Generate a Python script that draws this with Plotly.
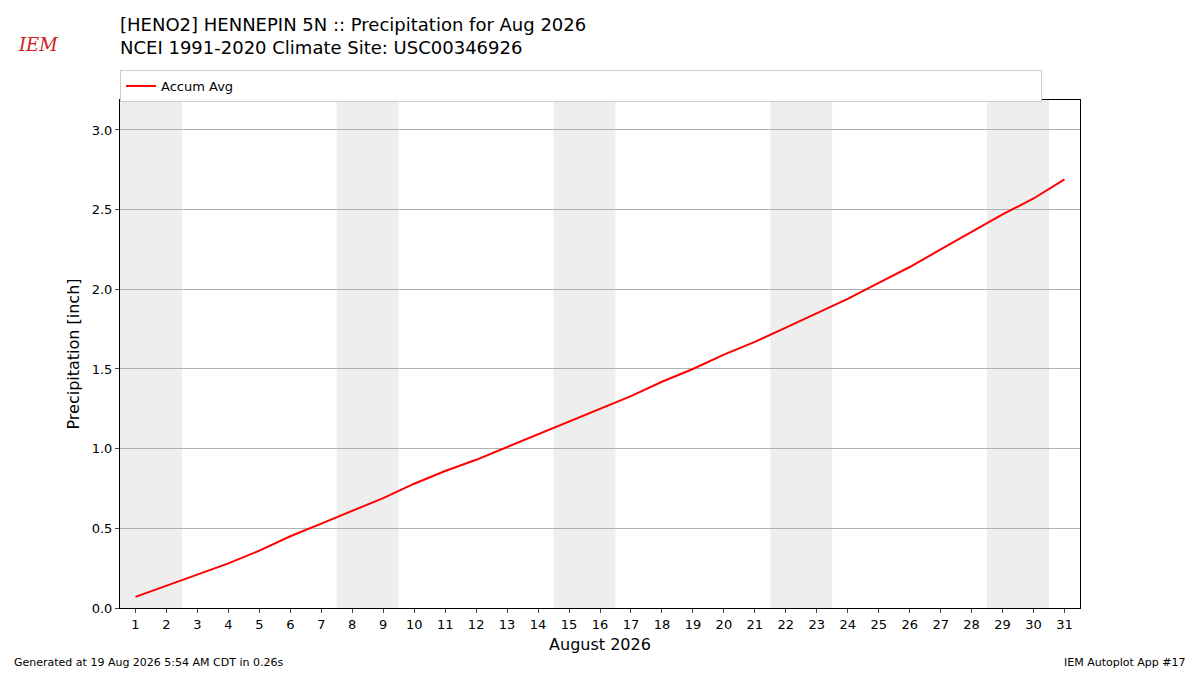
import plotly.graph_objects as go

days = list(range(1, 32))
accum_avg = [0.07, 0.14, 0.21, 0.28, 0.36, 0.45, 0.53, 0.61, 0.69, 0.78, 0.86, 0.93,
             1.01, 1.09, 1.17, 1.25, 1.33, 1.42, 1.50, 1.59, 1.67, 1.76, 1.85, 1.94,
             2.04, 2.14, 2.25, 2.36, 2.47, 2.57, 2.69]
weekend_starts = [1, 8, 15, 22, 29]
yticks = [0.0, 0.5, 1.0, 1.5, 2.0, 2.5, 3.0]

fig = go.Figure()
fig.add_trace(go.Scatter(x=days, y=accum_avg, mode="lines", name="Accum Avg",
                         line=dict(color="red", width=2)))
for d in weekend_starts:
    fig.add_vrect(x0=d - 0.5, x1=d + 1.5, fillcolor="#eeeeee", line_width=0, layer="below")

# plot area in page pixels: x 120..1080, y 100..608
def px(x):
    return (x - 120) / 960
def py(y):
    return (608 - y) / 508

fig.update_layout(
    width=1200, height=675, autosize=False, plot_bgcolor="white", paper_bgcolor="white",
    font=dict(family="DejaVu Sans", color="black", size=13),
    margin=dict(l=112, r=128, t=92, b=75),
    showlegend=True,
    legend=dict(x=0, y=py(70), xanchor="left", yanchor="top", orientation="h",
                bordercolor="#cccccc", borderwidth=1, font=dict(size=13),
                entrywidth=875, entrywidthmode="pixels"),
    xaxis=dict(range=[0.5, 31.5], tickvals=days, ticktext=[str(d) for d in days],
               showgrid=False, showline=True, linecolor="black", mirror=True,
               ticks="outside", ticklen=4,
               title=dict(text="August 2026", font=dict(size=16), standoff=8)),
    yaxis=dict(range=[0, 3.188], tickvals=yticks, ticktext=[f"{v:.1f}" for v in yticks],
               showgrid=True, gridcolor="#b0b0b0", showline=True, linecolor="black",
               mirror=True, ticks="outside", ticklen=4, zeroline=False,
               title=dict(text="Precipitation [inch]", font=dict(size=16), standoff=8)),
    annotations=[
        dict(text="[HENO2] HENNEPIN 5N :: Precipitation for Aug 2026<br>NCEI 1991-2020 Climate Site: USC00346926",
             x=px(118), y=py(12), xref="paper", yref="paper", xanchor="left", yanchor="top",
             align="left", showarrow=False, font=dict(size=18)),
        dict(text="Generated at 19 Aug 2026 5:54 AM CDT in 0.26s", x=px(12), y=py(671),
             xref="paper", yref="paper", xanchor="left", yanchor="bottom", showarrow=False,
             font=dict(size=11)),
        dict(text="IEM Autoplot App #17", x=px(1188), y=py(671), xref="paper", yref="paper",
             xanchor="right", yanchor="bottom", showarrow=False, font=dict(size=11)),
        dict(text="<i>IEM</i>", x=px(38), y=py(45), xref="paper", yref="paper",
             xanchor="center", yanchor="middle", showarrow=False,
             font=dict(size=18, color="#cc2222", family="DejaVu Serif")),
    ],
)
fig.write_html("out.html")
